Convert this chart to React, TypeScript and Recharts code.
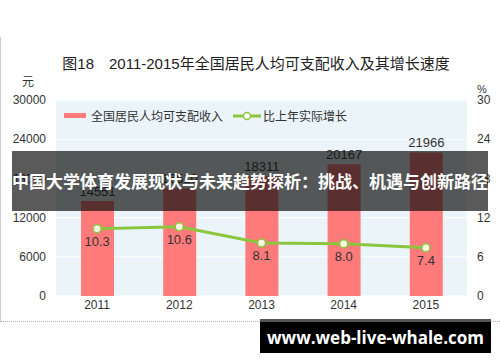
import React from 'react';
import {
  ComposedChart,
  Bar,
  Line,
  XAxis,
  YAxis,
  CartesianGrid,
  LabelList,
} from 'recharts';

const years = ['2011', '2012', '2013', '2014', '2015'];
const income = [14551, 16510, 18311, 20167, 21966];
const growth = [10.3, 10.6, 8.1, 8.0, 7.4];
const leftTicks = [0, 6000, 12000, 18000, 24000, 30000];
const rightTicks = [0, 6, 12, 18, 24, 30];

const data = years.map((year, i) => ({
  year,
  income: income[i],
  growth: growth[i],
}));

const FONT = '"Liberation Sans", "Noto Sans CJK SC", sans-serif';
const BAR_COLOR = '#ff7b7b';
const LINE_COLOR = '#8cc63f';

// legend drawn as plain html so it doesn't eat plot space
const LegendBox = () => (
  <div
    style={{
      position: 'absolute',
      top: 107,
      left: 64,
      display: 'flex',
      alignItems: 'center',
      fontSize: 12,
      color: '#333',
      fontFamily: FONT,
      whiteSpace: 'nowrap',
    }}
  >
    <span
      style={{ width: 22, height: 5, background: BAR_COLOR, marginRight: 5 }}
    />
    <span style={{ marginRight: 10 }}>全国居民人均可支配收入</span>
    <svg width={28} height={10} style={{ marginRight: 2 }}>
      <line x1={0} y1={5} x2={28} y2={5} stroke={LINE_COLOR} strokeWidth={3} />
      <circle cx={14} cy={5} r={3.5} fill="#fff" stroke={LINE_COLOR} strokeWidth={1.5} />
    </svg>
    <span>比上年实际增长</span>
  </div>
);

export default function App() {
  return (
    <div
      style={{
        position: 'absolute',
        top: 0,
        left: 0,
        width: 500,
        height: 362,
        background: '#fff',
        overflow: 'hidden',
        fontFamily: FONT,
      }}
    >
      {/* frame */}
      <div
        style={{
          position: 'absolute',
          left: 0,
          top: 37,
          width: 1,
          height: 284,
          background: '#d0d0d0',
        }}
      />
      <div
        style={{
          position: 'absolute',
          left: 0,
          top: 321,
          width: 500,
          borderTop: '1px dotted #b0b0b0',
        }}
      />

      <div
        style={{
          position: 'absolute',
          top: 52,
          left: 0,
          width: 512,
          textAlign: 'center',
          fontSize: 15,
          color: '#222',
        }}
      >
        图18　2011-2015年全国居民人均可支配收入及其增长速度
      </div>
      <div style={{ position: 'absolute', top: 72, left: 22, fontSize: 12, color: '#333' }}>元</div>
      <div style={{ position: 'absolute', top: 83, left: 477, fontSize: 11, color: '#333' }}>%</div>

      <ComposedChart
        width={500}
        height={362}
        data={data}
        margin={{ top: 100, right: 0, bottom: 46, left: 0 }}
      >
        <CartesianGrid
          vertical={false}
          stroke="#ffffff"
          fill="#eaf4f9"
          yAxisId="left"
        />
        <XAxis
          dataKey="year"
          axisLine={false}
          tickLine={false}
          tickSize={4}
          tickMargin={0}
          height={20}
          tick={{ fontSize: 12, fill: '#333', fontFamily: FONT }}
        />
        <YAxis
          yAxisId="left"
          domain={[0, 30000]}
          ticks={leftTicks}
          width={56}
          axisLine={false}
          tickLine={false}
          tickMargin={4}
          tick={{ fontSize: 12, fill: '#333', fontFamily: FONT }}
        />
        <YAxis
          yAxisId="right"
          orientation="right"
          domain={[0, 30]}
          ticks={rightTicks}
          width={33}
          axisLine={false}
          tickLine={false}
          tickMargin={4}
          tick={{ fontSize: 12, fill: '#333', fontFamily: FONT }}
        />
        <Bar
          yAxisId="left"
          dataKey="income"
          fill={BAR_COLOR}
          barSize={33}
          isAnimationActive={false}
        >
          <LabelList
            dataKey="income"
            position="top"
            offset={5}
            fill="#333"
            fontSize={13}
            fontFamily={FONT}
          />
        </Bar>
        <Line
          yAxisId="right"
          dataKey="growth"
          stroke={LINE_COLOR}
          strokeWidth={3}
          dot={{ r: 4, fill: '#fffbe8', stroke: LINE_COLOR, strokeWidth: 1.5 }}
          activeDot={false}
          isAnimationActive={false}
        >
          <LabelList
            dataKey="growth"
            position="bottom"
            offset={8}
            fill="#333"
            fontSize={13}
            fontFamily={FONT}
            formatter={(v: number) => v.toFixed(1)}
          />
        </Line>
      </ComposedChart>

      <LegendBox />

      {/* overlay banner */}
      <div
        style={{
          position: 'absolute',
          top: 151,
          left: 12,
          width: 476,
          height: 60,
          background: 'rgba(12,12,12,0.68)',
          color: '#fff',
          fontWeight: 'bold',
          fontSize: 17,
          lineHeight: '60px',
          textAlign: 'center',
          whiteSpace: 'nowrap',
          fontFamily: '"Noto Sans CJK SC", sans-serif',
        }}
      >
        中国大学体育发展现状与未来趋势探析：挑战、机遇与创新路径
      </div>

      {/* watermark */}
      <div
        style={{
          position: 'absolute',
          top: 319,
          left: 260,
          width: 231,
          height: 34,
          background: '#000',
          borderTop: '3px solid #555',
          boxSizing: 'border-box',
          color: '#fff',
          fontWeight: 'bold',
          fontSize: 17,
          lineHeight: '31px',
          textAlign: 'center',
          fontFamily: '"Open Sans", sans-serif',
        }}
      >
        www.web-live-whale.com
      </div>
    </div>
  );
}
